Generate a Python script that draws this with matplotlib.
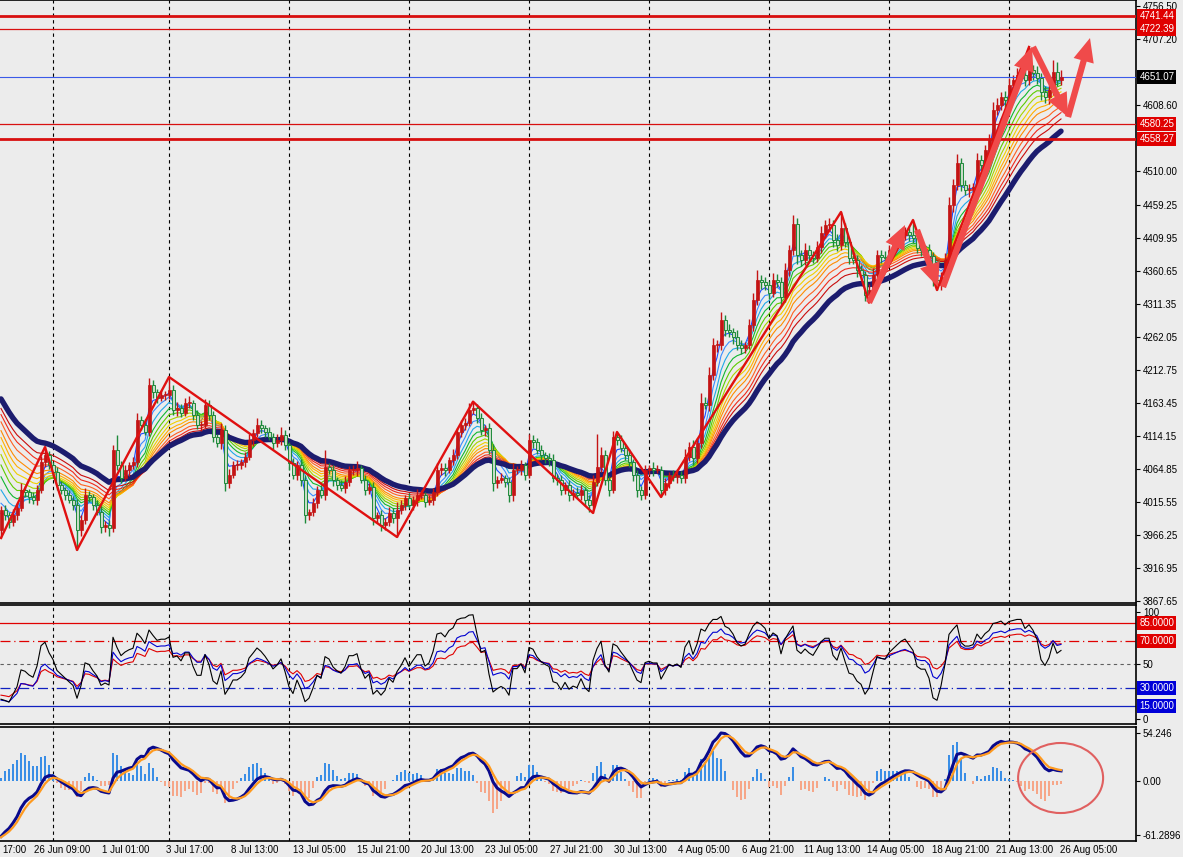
import numpy as np
import pandas as pd
import matplotlib
matplotlib.use('Agg')
import matplotlib.pyplot as plt
from matplotlib.patches import FancyArrowPatch, Ellipse

plt.rcParams['font.family'] = ['Liberation Sans', 'DejaVu Sans']

# 前置历史收盘价（画面左侧之外，只用于均线/指标预热）
pre_close = [4243, 4251, 4256, 4248, 4241, 4253, 4262, 4267, 4259, 4252,
             4246, 4255, 4264, 4271, 4265, 4258, 4251, 4244, 4250, 4259,
             4266, 4273, 4268, 4261, 4255, 4262, 4270, 4277, 4272, 4264,
             4258, 4265, 4273, 4279, 4274, 4267, 4261, 4253, 4259, 4266,
             4252, 4232, 4206, 4175, 4140, 4104, 4068, 4035, 4007, 3987, 3974]

# H4 收盘价
close = [
    4003.6, 3996.0, 3986.0, 3996.0, 4006.5, 4033.4, 4030.5, 4023.0, 4018.5, 4033.4,
    4075.3, 4085.7, 4070.8, 4060.3, 4040.9, 4033.4, 4026.0, 4018.5, 4011.0, 3973.7,
    3988.6, 4026.0, 4023.0, 4011.0, 4000.6, 3978.2, 3981.1, 3976.7, 4093.2, 4070.8,
    4051.4, 4063.3, 4070.8, 4075.3, 4138.0, 4130.5, 4120.1, 4190.3, 4179.9, 4170.9,
    4175.4, 4175.4, 4182.8, 4153.0, 4155.9, 4148.5, 4163.4, 4163.4, 4145.5, 4130.5,
    4130.5, 4160.4, 4145.5, 4112.6, 4103.7, 4123.1, 4043.9, 4055.8, 4070.8, 4070.8,
    4075.3, 4082.7, 4108.1, 4118.6, 4130.5, 4126.1, 4120.1, 4112.6, 4103.7, 4108.1,
    4115.6, 4100.7, 4073.8, 4055.8, 4070.8, 4048.4, 3996.0, 4000.6, 4014.0, 4033.4,
    4026.0, 4067.8, 4063.3, 4048.4, 4040.9, 4036.4, 4045.4, 4063.3, 4063.3, 4066.3,
    4048.4, 4033.4, 4037.9, 3991.6, 3996.0, 3981.1, 3986.0, 3999.1, 3991.6, 4003.6,
    4011.0, 4021.5, 4011.0, 4018.5, 4026.0, 4026.0, 4015.5, 4018.5, 4030.5, 4063.3,
    4066.3, 4063.3, 4078.3, 4085.7, 4120.1, 4130.5, 4133.5, 4153.0, 4155.9, 4141.0,
    4123.1, 4126.1, 4093.2, 4043.9, 4048.4, 4051.4, 4045.4, 4026.0, 4063.3, 4063.3,
    4070.8, 4055.8, 4108.1, 4105.2, 4093.2, 4085.7, 4081.2, 4078.3, 4051.4, 4048.4,
    4033.4, 4040.9, 4026.0, 4029.0, 4026.0, 4033.4, 4018.5, 4011.0, 4045.4, 4067.8,
    4085.7, 4048.4, 4033.4, 4112.6, 4108.1, 4096.2, 4085.7, 4075.3, 4055.8, 4033.4,
    4026.0, 4063.3, 4066.3, 4063.3, 4063.3, 4033.4, 4043.9, 4055.8, 4052.9, 4055.8,
    4051.4, 4082.7, 4097.7, 4081.2, 4103.7, 4163.4, 4160.4, 4205.2, 4250.1, 4250.1,
    4287.4, 4272.5, 4269.5, 4262.0, 4250.1, 4245.6, 4250.1, 4279.9, 4317.3, 4347.2,
    4344.2, 4339.7, 4327.8, 4347.2, 4344.2, 4321.8, 4362.1, 4392.0, 4430.8, 4384.5,
    4377.1, 4392.0, 4384.5, 4380.0, 4396.5, 4417.4, 4429.3, 4429.3, 4406.9, 4399.5,
    4424.9, 4403.9, 4380.0, 4377.1, 4362.1, 4354.6, 4324.8, 4332.2, 4354.6, 4384.5,
    4381.5, 4380.0, 4392.0, 4399.5, 4406.9, 4414.4, 4418.9, 4414.4, 4409.9, 4395.0,
    4392.0, 4392.0, 4383.0, 4347.2, 4339.7, 4351.7, 4377.1, 4459.2, 4489.1, 4522.0,
    4489.1, 4481.6, 4481.6, 4486.1, 4526.5, 4519.0, 4541.4, 4556.3, 4601.2, 4608.6,
    4620.6, 4616.1, 4638.5, 4646.0, 4653.5, 4653.5, 4646.0, 4660.9, 4656.4, 4649.0,
    4628.1, 4620.6, 4631.0, 4657.9, 4646.0, 4651.07,
]

# 上下影线长度
up_wick = [6, 8, 5, 9, 7, 10, 6, 5, 8, 7, 9, 12, 6, 5, 8, 6, 5, 7, 6, 9,
           8, 10, 6, 5, 7, 9, 6, 8, 7, 22, 6, 8, 5, 7, 10, 6, 9, 11, 7, 5,
           8, 6, 19, 7, 9, 6, 8, 10, 5, 7, 6, 9, 8, 6, 5, 10, 7, 9, 6, 8,
           5, 7, 9, 6, 10, 8, 5, 7, 6, 9, 12, 7, 5, 8, 6, 9, 7, 5, 8, 6,
           7, 25, 6, 8, 5, 7, 9, 6, 8, 10, 5, 7, 6, 8, 5, 7, 6, 9, 8, 12,
           7, 5, 8, 6, 9, 7, 5, 8, 6, 10, 7, 8, 5, 9, 6, 8, 7, 10, 10, 6,
           8, 5, 7, 9, 6, 8, 5, 7, 10, 6, 8, 5, 9, 7, 6, 8, 5, 7, 9, 6,
           8, 5, 7, 6, 9, 7, 5, 8, 10, 50, 12, 8, 6, 9, 8, 7, 6, 9, 5, 7,
           6, 8, 5, 9, 7, 6, 8, 5, 7, 9, 6, 12, 8, 10, 7, 15, 9, 12, 10, 8,
           12, 7, 9, 6, 10, 8, 5, 9, 11, 15, 7, 8, 6, 10, 9, 7, 11, 8, 13, 9,
           7, 10, 8, 6, 9, 11, 8, 10, 7, 9, 24, 8, 6, 9, 7, 8, 6, 9, 10, 8,
           7, 9, 8, 6, 10, 9, 7, 8, 22, 6, 8, 7, 9, 6, 8, 7, 10, 12, 9, 14,
           8, 7, 9, 6, 10, 8, 7, 9, 12, 10, 8, 9, 11, 7, 10, 8, 9, 34, 8, 10,
           7, 9, 8, 18, 15, 10]
dn_wick = [12, 7, 9, 6, 8, 5, 7, 9, 6, 8, 5, 7, 6, 9, 8, 6, 7, 5, 8, 30,
           9, 6, 8, 7, 5, 9, 7, 12, 6, 8, 7, 5, 9, 6, 8, 7, 5, 6, 9, 7,
           5, 8, 6, 7, 9, 6, 5, 8, 7, 6, 9, 5, 7, 8, 6, 9, 12, 7, 5, 8,
           6, 7, 5, 9, 6, 8, 7, 5, 9, 6, 7, 8, 10, 6, 7, 9, 12, 8, 6, 7,
           5, 8, 6, 9, 7, 5, 8, 6, 7, 9, 5, 8, 6, 10, 7, 9, 8, 6, 7, 29,
           6, 8, 5, 7, 9, 6, 8, 5, 7, 6, 8, 9, 5, 7, 6, 8, 7, 5, 6, 8,
           7, 9, 6, 12, 7, 5, 8, 10, 9, 6, 7, 8, 5, 9, 6, 7, 8, 9, 6, 7,
           8, 6, 9, 7, 5, 8, 9, 10, 12, 6, 8, 7, 9, 5, 7, 6, 8, 7, 9, 10,
           8, 6, 7, 9, 5, 10, 7, 8, 6, 9, 7, 8, 6, 10, 7, 8, 6, 9, 7, 10,
           8, 9, 7, 10, 8, 9, 7, 6, 9, 8, 10, 7, 9, 6, 8, 12, 7, 9, 8, 14,
           9, 7, 10, 8, 6, 9, 7, 8, 10, 9, 7, 8, 9, 6, 10, 8, 9, 11, 7, 8,
           9, 7, 8, 10, 6, 8, 7, 9, 8, 7, 9, 8, 10, 9, 7, 8, 9, 7, 10, 8,
           9, 7, 10, 8, 9, 7, 8, 10, 9, 8, 7, 10, 9, 8, 10, 7, 9, 8, 10, 9,
           12, 9, 10, 8, 9, 7]

# 之字形拐点
zz_bar = [0, 11, 19, 42, 99, 118, 148, 154, 165, 210, 217, 228, 234, 257]
zz_price = [3961.7, 4097.6, 3943.8, 4202.3, 3963.2, 4165.4, 3999.1, 4120.1,
            4023.0, 4448.8, 4313.3, 4436.8, 4332.2, 4695.3]

# 手绘箭头 (起点 -> 终点)
arrow_from = [(217, 4313.3), (229, 4421.9), (235.5, 4336.7), (258, 4695.3), (266.75, 4590.7)]
arrow_to = [(226, 4429.3), (234.25, 4336.7), (257.75, 4695.3), (266.75, 4590.7), (272.25, 4708.7)]

# 水平线
red_thick = [4741.44, 4558.27]
red_thin = [4722.39, 4580.25]
last_price = 4651.07

# 右侧价格刻度
price_ticks = [4756.50, 4707.20, 4608.60, 4510.00, 4459.25, 4409.95,
               4360.65, 4311.35, 4262.05, 4212.75, 4163.45, 4114.15, 4064.85, 4015.55,
               3966.25, 3916.95, 3867.65]

# 时间标签
time_labels = ['17:00', '26 Jun 09:00', '1 Jul 01:00', '3 Jul 17:00', '8 Jul 13:00',
               '13 Jul 05:00', '15 Jul 21:00', '20 Jul 13:00', '23 Jul 05:00',
               '27 Jul 21:00', '30 Jul 13:00', '4 Aug 05:00', '6 Aug 21:00',
               '11 Aug 13:00', '14 Aug 05:00', '18 Aug 21:00', '21 Aug 13:00', '26 Aug 05:00']
time_pos = [3.25, 15.25, 31.25, 47.25, 63.5, 79.5, 95.5, 111.5, 127.5, 143.75,
            159.75, 175.75, 191.75, 207.75, 223.75, 240, 256, 272]
grid_bars = [13, 42, 72, 102, 132, 162, 192, 222, 252]

ema_periods = [3, 5, 7, 9, 11, 13, 15, 17, 19, 22, 25, 28]
ema_colors = ['#1a4cff', '#3a8cff', '#20a8e8', '#10b830', '#5ccc00', '#a8d400',
              '#f0d000', '#ffb000', '#ff8c00', '#ff6020', '#f02a1a', '#c80c0c']
slow_period = 34

# ---------------- 计算 ----------------
n = len(close)
full = pd.Series(pre_close + close, dtype=float)
npre = len(pre_close)
x = np.arange(n)
c = np.array(close)
o = np.array([pre_close[-1]] + close[:-1])
h = np.maximum(o, c) + np.array(up_wick)
l = np.minimum(o, c) - np.array(dn_wick)

def ema(s, p):
    return s.ewm(span=p, adjust=False).mean()

def rsi(s, p):
    d = s.diff()
    up = d.clip(lower=0).ewm(alpha=1 / p, adjust=False).mean()
    dn = (-d.clip(upper=0)).ewm(alpha=1 / p, adjust=False).mean()
    return 100 - 100 / (1 + up / dn)

macd = ema(full, 6) - ema(full, 13)
sig = ema(macd, 3)
hist = 4 * (macd - sig)

bg = '#ececec'
fig = plt.figure(figsize=(11.83, 8.57), dpi=100, facecolor=bg)
W, H = 1183, 857
ax1 = fig.add_axes([0, 1 - 603 / H, 1136 / W, 603 / H], facecolor=bg)
ax2 = fig.add_axes([0, 1 - 724 / H, 1136 / W, 119 / H], facecolor=bg)
ax3 = fig.add_axes([0, 1 - 841 / H, 1136 / W, 114 / H], facecolor=bg)

for ax in (ax1, ax2, ax3):
    ax.set_xlim(-0.25, 283.75)
    ax.spines['left'].set_visible(False)
    for s in ('top', 'bottom', 'right'):
        ax.spines[s].set_color('black')
        ax.spines[s].set_linewidth(1.2)
    ax.yaxis.tick_right()
    ax.tick_params(axis='y', length=3, width=0.8, pad=2, labelsize=7, colors='black')
    ax.set_xticks([])
    for gb in grid_bars:
        ax.axvline(gb, color='black', lw=0.8, ls=(0, (3, 3)), zorder=1)

# ---------------- 主图 ----------------
ax1.set_ylim(3864.6, 4765.5)
for p, col in zip(ema_periods, ema_colors):
    ax1.plot(x, ema(full, p).values[npre:], color=col, lw=0.8, zorder=2)
ax1.plot(x, ema(full, slow_period).values[npre:], color='#1c1c6e', lw=3.9, zorder=3,
         solid_capstyle='round')

bull = c >= o
up_col = '#c41414'
dn_edge = '#1e8a3a'
ax1.vlines(x[bull], l[bull], h[bull], color=up_col, lw=1.0, zorder=4)
ax1.vlines(x[~bull], l[~bull], h[~bull], color=dn_edge, lw=1.0, zorder=4)
body = np.maximum(np.abs(c - o), 0.8)
ax1.bar(x[bull], body[bull], bottom=np.minimum(o, c)[bull], width=0.75,
        color=up_col, edgecolor=up_col, lw=0.5, zorder=5)
ax1.bar(x[~bull], body[~bull], bottom=np.minimum(o, c)[~bull], width=0.75,
        color='#c9dcc9', edgecolor=dn_edge, lw=0.7, zorder=5)

for v in red_thick:
    ax1.axhline(v, color='#d81010', lw=2.0, zorder=4.5)
for v in red_thin:
    ax1.axhline(v, color='#d81010', lw=0.9, zorder=4.5)
ax1.axhline(last_price, color='#3a5ae8', lw=0.8, zorder=4.5)

ax1.plot(zz_bar, zz_price, color='#e01010', lw=1.7, zorder=6)

for a, b in zip(arrow_from, arrow_to):
    ax1.add_patch(FancyArrowPatch(a, b, arrowstyle='simple,head_length=1.7,head_width=1.5,tail_width=0.45',
                                  mutation_scale=10, color='#f04a4a', lw=0, zorder=7,
                                  shrinkA=0, shrinkB=0))

ax1.set_yticks(price_ticks)
ax1.set_yticklabels([f'{v:.2f}' for v in price_ticks])

tr1 = ax1.get_yaxis_transform()
for v in red_thick + red_thin:
    ax1.text(1.003, v, f'{v:.2f}', transform=tr1, fontsize=7, color='white', va='center',
             ha='left', zorder=10, clip_on=False,
             bbox=dict(boxstyle='square,pad=0.2', fc='#e00000', ec='none'))
ax1.text(1.003, last_price, f'{last_price:.2f}', transform=tr1, fontsize=7, color='white',
         va='center', ha='left', zorder=10, clip_on=False,
         bbox=dict(boxstyle='square,pad=0.2', fc='black', ec='none'))

# ---------------- RSI ----------------
ax2.set_ylim(-0.6, 100.6)
ax2.axhline(85, color='#e00000', lw=0.9)
ax2.axhline(70, color='#e00000', lw=0.9, ls=(0, (8, 3, 1, 3)))
ax2.axhline(50, color='#606060', lw=0.8, ls=(0, (3, 3)))
ax2.axhline(30, color='#1020c0', lw=0.9, ls=(0, (8, 3, 1, 3)))
ax2.axhline(15, color='#1020c0', lw=0.9)
ax2.plot(x, rsi(full, 21).values[npre:], color='#e00000', lw=0.8, zorder=3)
ax2.plot(x, rsi(full, 14).values[npre:], color='#0000d0', lw=0.8, zorder=3)
ax2.plot(x, rsi(full, 7).values[npre:], color='black', lw=0.8, zorder=3)
ax2.set_yticks([94.5, 50, 4])
ax2.set_yticklabels(['100', '50', '0'])
tr2 = ax2.get_yaxis_transform()
for v, fc in [(85, '#e00000'), (70, '#e00000'), (30, '#0000d8'), (15, '#0000d8')]:
    ax2.text(1.003, v, f'{v:.4f}', transform=tr2, fontsize=7, color='white', va='center',
             ha='left', zorder=10, clip_on=False,
             bbox=dict(boxstyle='square,pad=0.2', fc=fc, ec='none'))

# ---------------- MACD ----------------
ax3.set_ylim(-68.1, 61.3)
hv = hist.values[npre:]
ax3.bar(x, hv, width=0.65, color=np.where(hv >= 0, '#3a8ee6', '#f6a688'), zorder=2)
ax3.plot(x, macd.values[npre:], color='#0a0a8c', lw=2.2, zorder=3)
ax3.plot(x, sig.values[npre:], color='#ff9a1f', lw=1.6, zorder=4)
ax3.add_patch(Ellipse((264.9, 3.4), 21.25, 79.5, fill=False, ec='#e06060', lw=1.5, zorder=5))
ax3.set_yticks([54.246, 0.0, -61.2896])
ax3.set_yticklabels(['54.246', '0.00', '-61.2896'])

trx = ax3.get_xaxis_transform()
for t, p in zip(time_labels, time_pos):
    ax3.text(p, -0.08, t, transform=trx, fontsize=7, ha='center', va='center', clip_on=False)

fig.savefig('out.png', dpi=100, facecolor=bg)
